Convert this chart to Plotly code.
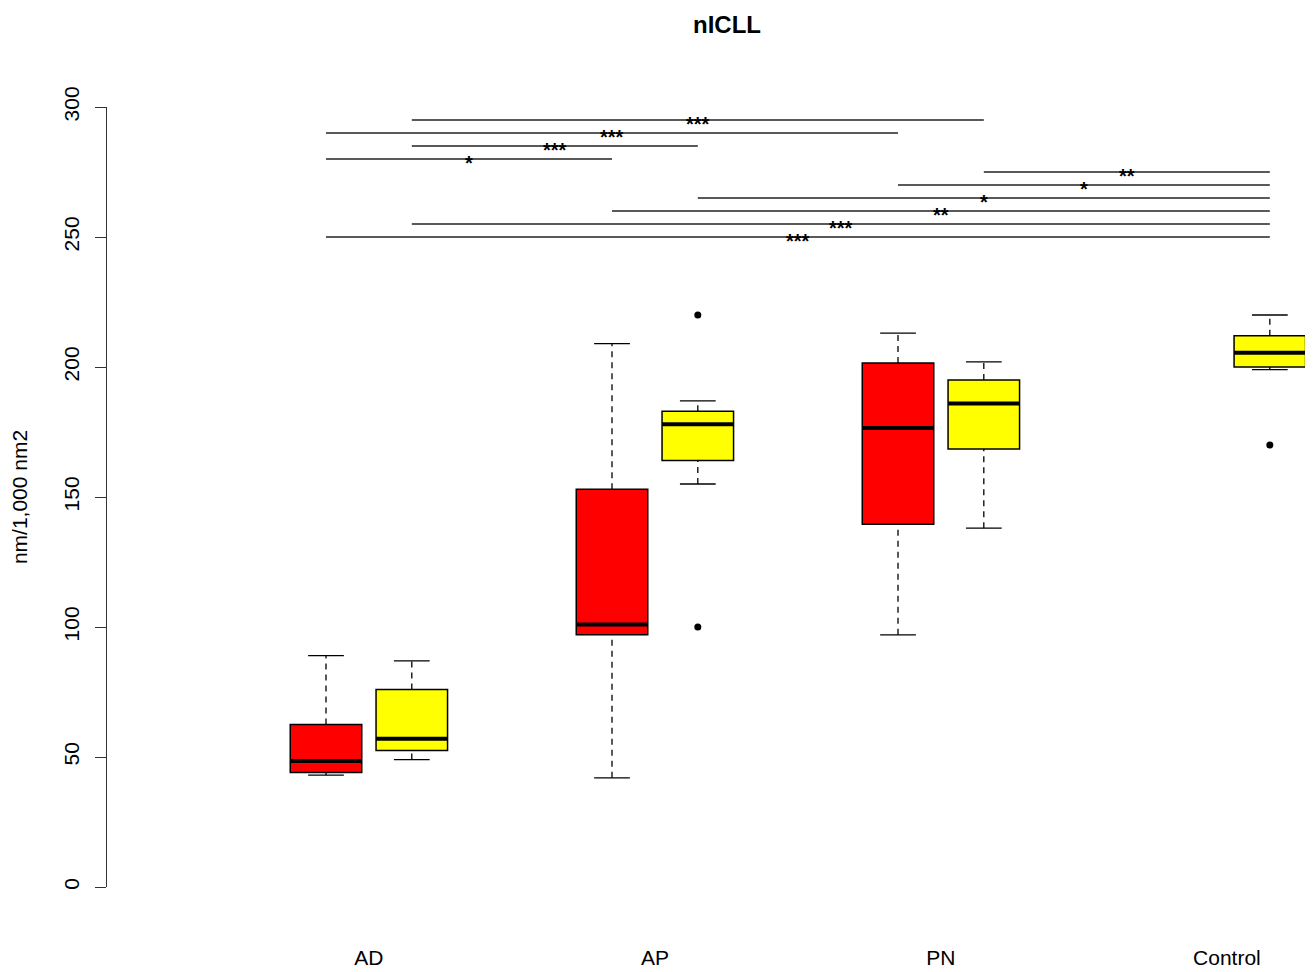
import plotly.graph_objects as go

# ---- data ----
positions = [1.0, 1.3, 2.0, 2.3, 3.0, 3.3, 4.3]
fills = ["red", "yellow", "red", "yellow", "red", "yellow", "yellow"]
lower_whisker = [43, 49, 42, 155, 97, 138, 199]
q1 = [44, 52.5, 97, 164, 139.5, 168.5, 200]
median = [48.5, 57, 101, 178, 176.5, 186, 205.5]
q3 = [62.5, 76, 153, 183, 201.5, 195, 212]
upper_whisker = [89, 87, 209, 187, 213, 202, 220]

outlier_x = [2.3, 2.3, 4.3]
outlier_y = [220, 100, 170]

category_labels = ["AD", "AP", "PN", "Control"]
category_pos = [1.15, 2.15, 3.15, 4.15]

sig_x0 = [1.3, 1.0, 1.3, 1.0, 3.3, 3.0, 2.3, 2.0, 1.3, 1.0]
sig_x1 = [3.3, 3.0, 2.3, 2.0, 4.3, 4.3, 4.3, 4.3, 4.3, 4.3]
sig_y = [295, 290, 285, 280, 275, 270, 265, 260, 255, 250]
sig_label = ["***", "***", "***", "*", "**", "*", "*", "**", "***", "***"]

y_ticks = [0, 50, 100, 150, 200, 250, 300]

BOX_W = 0.25
CAP_W = 0.125

fig = go.Figure()

# whiskers (dashed) and caps
for i, p in enumerate(positions):
    fig.add_trace(go.Scatter(
        x=[p, p, None, p, p], y=[q3[i], upper_whisker[i], None, lower_whisker[i], q1[i]],
        mode="lines", line=dict(color="black", width=1.3, dash="6px,5px"),
        hoverinfo="skip", showlegend=False))
    fig.add_trace(go.Scatter(
        x=[p - CAP_W / 2, p + CAP_W / 2, None, p - CAP_W / 2, p + CAP_W / 2],
        y=[upper_whisker[i], upper_whisker[i], None, lower_whisker[i], lower_whisker[i]],
        mode="lines", line=dict(color="black", width=1.3),
        hoverinfo="skip", showlegend=False))

# boxes
for i, p in enumerate(positions):
    fig.add_trace(go.Box(
        x=[p], q1=[q1[i]], median=[median[i]], q3=[q3[i]],
        lowerfence=[q1[i]], upperfence=[q3[i]],
        width=BOX_W, whiskerwidth=0, fillcolor=fills[i],
        line=dict(color="black", width=1.5), boxpoints=False,
        showlegend=False, hoverinfo="skip"))

# thick medians
for i, p in enumerate(positions):
    fig.add_trace(go.Scatter(
        x=[p - BOX_W / 2, p + BOX_W / 2], y=[median[i], median[i]],
        mode="lines", line=dict(color="black", width=4),
        hoverinfo="skip", showlegend=False))

# outliers
fig.add_trace(go.Scatter(
    x=outlier_x, y=outlier_y, mode="markers",
    marker=dict(color="black", size=7), showlegend=False, hoverinfo="skip"))

# significance lines
for i in range(len(sig_y)):
    fig.add_trace(go.Scatter(
        x=[sig_x0[i], sig_x1[i]], y=[sig_y[i], sig_y[i]], mode="lines",
        line=dict(color="#222222", width=1.5), hoverinfo="skip", showlegend=False))
    fig.add_annotation(
        x=(sig_x0[i] + sig_x1[i]) / 2, y=sig_y[i], text="<b>" + sig_label[i] + "</b>",
        showarrow=False, xanchor="center", yanchor="middle", yshift=-4,
        font=dict(family="Liberation Sans", size=20, color="black"))

fig.update_layout(
    width=1307, height=964,
    margin=dict(l=99, r=10, t=99, b=85),
    plot_bgcolor="white", paper_bgcolor="white",
    font=dict(family="Liberation Sans", color="black"),
    title=dict(text="<b>nICLL</b>", x=0.5175, xref="paper", y=1 - 17 / 964,
               yref="container", xanchor="center", yanchor="middle",
               font=dict(size=24, family="Liberation Sans", color="black")),
    xaxis=dict(range=[0.2343, 4.423], showgrid=False, zeroline=False,
               showline=False, ticks="", tickvals=category_pos,
               ticktext=category_labels, ticklabelstandoff=56,
               tickfont=dict(size=21), automargin=False),
    yaxis=dict(range=[0, 300], showgrid=False, zeroline=False,
               showline=True, linecolor="#333333", linewidth=1.2,
               ticks="outside", ticklen=11, tickcolor="#333333", tickwidth=1.2,
               tickvals=y_ticks, tickangle=-90, tickfont=dict(size=21),
               ticklabelstandoff=8,
               title=dict(text="nm/1,000 nm2", font=dict(size=21), standoff=30),
               automargin=False),
)

fig.write_html("out.html")
